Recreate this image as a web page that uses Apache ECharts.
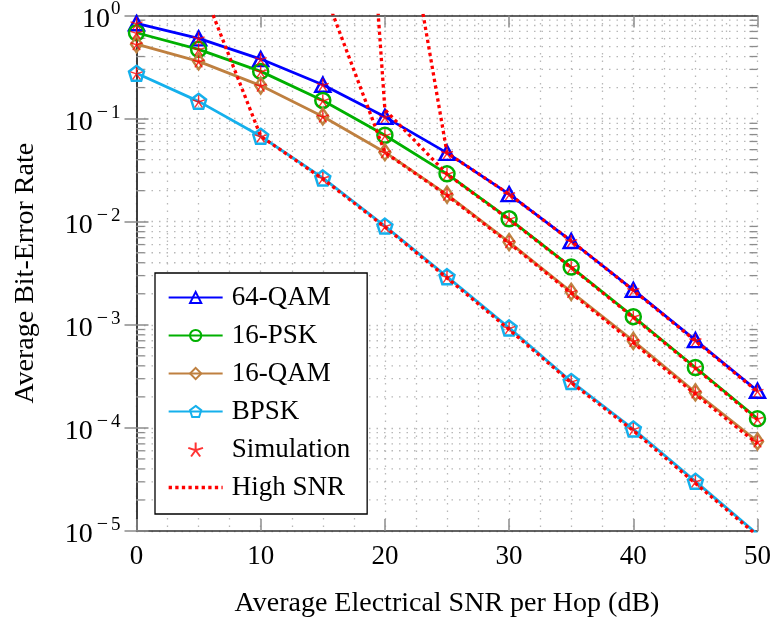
<!DOCTYPE html>
<html>
<head>
<meta charset="utf-8">
<script src="https://cdn.jsdelivr.net/npm/echarts@6/dist/echarts.min.js"></script>
<style>
html,body{margin:0;padding:0;background:#fff;}
#chart{width:774px;height:626px;}
</style>
</head>
<body>
<div id="chart"></div>
<script>
// ---- data ----
const snr = [0, 5, 10, 15, 20, 25, 30, 35, 40, 45, 50];
const ber64QAM = [0.84, 0.60, 0.378, 0.213, 0.104, 0.0465, 0.0185, 0.0065, 0.00218, 7.1e-4, 2.29e-4];
const ber16PSK = [0.68, 0.47, 0.287, 0.150, 0.0689, 0.0291, 0.01067, 0.00363, 0.0012, 3.85e-4, 1.23e-4];
const ber16QAM = [0.527, 0.359, 0.209, 0.105, 0.0472, 0.0183, 0.00635, 0.00209, 6.98e-4, 2.21e-4, 7.4e-5];
const berBPSK = [0.275, 0.147, 0.0674, 0.0266, 0.00906, 0.00293, 9.33e-4, 2.82e-4, 9.75e-5, 3.03e-5, 9.3e-6];

const sim64QAM = [0.84, 0.60, 0.378, 0.213, 0.104, 0.0465, 0.0185, 0.0065, 0.00218, 7.1e-4, 2.29e-4];
const sim16PSK = [0.68, 0.47, 0.287, 0.150, 0.0689, 0.0291, 0.01067, 0.00363, 0.0012, 3.85e-4, 1.23e-4];
const sim16QAM = [0.527, 0.359, 0.209, 0.105, 0.0472, 0.0183, 0.00635, 0.00209, 6.98e-4, 2.21e-4, 7.4e-5];
const simBPSK = [0.275, 0.147, 0.0674, 0.0266, 0.00906, 0.00293, 9.33e-4, 2.82e-4, 9.75e-5, 3.03e-5, 9.3e-6];

const hsSnrBPSK = [5, 10, 15, 20, 25, 30, 35, 40, 45, 50];
const hsBPSK = [2.3, 0.0674, 0.026, 0.0089, 0.00285, 9.0e-4, 2.75e-4, 9.4e-5, 2.9e-5, 9.0e-6];
const hsSnr16QAM = [15, 20, 25, 30, 35, 40, 45, 50];
const hs16QAM = [1.87, 0.047, 0.018, 0.0062, 0.00203, 6.7e-4, 2.12e-4, 7.0e-5];
const hsSnr16PSK = [15, 20, 25, 30, 35, 40, 45, 50];
const hs16PSK = [5e7, 0.122, 0.029, 0.0105, 0.0036, 0.00118, 3.8e-4, 1.2e-4];
const hsSnr64QAM = [20, 25, 30, 35, 40, 45, 50];
const hs64QAM = [145, 0.0465, 0.0185, 0.0065, 0.00216, 7.0e-4, 2.25e-4];

const legendNames = ['64-QAM', '16-PSK', '16-QAM', 'BPSK', 'Simulation', 'High SNR'];
const yMinorVals = [];
[-5, -4, -3, -2, -1].forEach(function (e) {
  [2, 3, 4, 5, 6, 7, 8, 9].forEach(function (m) { yMinorVals.push(m * Math.pow(10, e)); });
});

// ---- helpers ----
const FONT = '"Liberation Serif", "DejaVu Serif", serif';
const pairs = (xs, ys) => xs.map((x, i) => [x, ys[i]]);
const PENTAGON = 'path://M0,-1L0.951,-0.309L0.588,0.809L-0.588,0.809L-0.951,-0.309Z';
const STAR = 'path://M0,0L0,-1M0,0L0.951,-0.309M0,0L0.588,0.809M0,0L-0.588,0.809M0,0L-0.951,-0.309';
const GRID_COLOR = '#b8b8b8';
const TICK_COLOR = '#8c8c8c';
const AXIS_COLOR = '#303030';
const DOT = [3.3, 3.3];

function analytic(name, color, ys, symbol, size) {
  return {
    name: name, type: 'line', data: pairs(snr, ys), z: 2,
    symbol: symbol, symbolSize: size, showSymbol: true,
    lineStyle: { color: color, width: 2.8 },
    itemStyle: { color: 'rgba(255,255,255,0)', borderColor: color, borderWidth: 2.5 },
    emphasis: { disabled: true }, animation: false
  };
}
function highSnr(xs, ys) {
  return {
    name: 'High SNR', type: 'line', data: pairs(xs, ys), z: 3,
    showSymbol: false, symbol: 'none',
    lineStyle: { color: '#ff0000', width: 3.3, type: DOT },
    itemStyle: { color: '#ff0000' },
    emphasis: { disabled: true }, animation: false
  };
}

const simData = [].concat(pairs(snr, sim64QAM), pairs(snr, sim16PSK), pairs(snr, sim16QAM), pairs(snr, simBPSK));

const chart = echarts.init(document.getElementById('chart'), null, { renderer: 'canvas' });
const option = {
  animation: false,
  backgroundColor: '#ffffff',
  grid: { left: 136.5, right: 16.5, top: 14, bottom: 95, show: false },
  xAxis: [{
    type: 'value', min: 0, max: 50, interval: 10,
    name: 'Average Electrical SNR per Hop (dB)', nameLocation: 'middle', nameGap: 59,
    nameTextStyle: { fontFamily: FONT, fontSize: 28, color: '#000' },
    axisLine: { show: true, onZero: false, lineStyle: { color: AXIS_COLOR, width: 1.5 } },
    axisTick: { show: true, inside: true, length: 12, lineStyle: { color: TICK_COLOR, width: 1.5 } },
    axisLabel: { fontFamily: FONT, fontSize: 27, color: '#000', margin: 12 },
    splitLine: { show: true, lineStyle: { color: GRID_COLOR, width: 1.3, type: [1.5, 6] } },
    minorTick: { show: false, splitNumber: 4 },
    minorSplitLine: { show: true, lineStyle: { color: GRID_COLOR, width: 1.3, type: [1.5, 6] } }
  }, {
    type: 'value', min: 0, max: 50, interval: 10, position: 'top',
    axisLine: { show: true, onZero: false, lineStyle: { color: AXIS_COLOR, width: 1.5 } },
    axisTick: { show: true, inside: true, length: 12, lineStyle: { color: TICK_COLOR, width: 1.5 } },
    axisLabel: { show: false }, splitLine: { show: false }
  }],
  yAxis: [{
    type: 'log', logBase: 10, min: 1e-5, max: 1,
    name: 'Average Bit-Error Rate', nameLocation: 'middle', nameGap: 97,
    nameTextStyle: { fontFamily: FONT, fontSize: 28, color: '#000' },
    axisLine: { show: true, lineStyle: { color: AXIS_COLOR, width: 1.5 } },
    axisTick: { show: true, inside: true, length: 12, lineStyle: { color: TICK_COLOR, width: 1.5 } },
    axisLabel: {
      margin: 16, color: '#000', padding: [8, 0, 0, 0],
      formatter: function (v) {
        const e = Math.round(Math.log10(v));
        if (e < 0) return '{b|10}{m|\u2212}{s|' + (-e) + '}';
        return '{b|10}{s|' + e + '}';
      },
      rich: {
        b: { fontFamily: FONT, fontSize: 28, color: '#000' },
        m: { fontFamily: FONT, fontSize: 20, color: '#000', padding: [0, 2, 20, 4] },
        s: { fontFamily: FONT, fontSize: 19, color: '#000', padding: [0, 0, 20, 1] }
      }
    },
    splitLine: { show: true, lineStyle: { color: GRID_COLOR, width: 1.3, type: [1.5, 6] } }
  }, {
    type: 'log', logBase: 10, min: 1e-5, max: 1, position: 'right',
    axisLine: { show: true, lineStyle: { color: AXIS_COLOR, width: 1.5 } },
    axisTick: { show: true, inside: true, length: 12, lineStyle: { color: TICK_COLOR, width: 1.5 } },
    axisLabel: { show: false }, splitLine: { show: false }
  }],
  legend: {
    show: true, orient: 'vertical', left: 155, top: 273,
    data: legendNames.map(function (n) {
      if (n === 'High SNR') return { name: n, itemStyle: { opacity: 0 }, lineStyle: { width: 3.3, type: DOT, color: '#ff0000' } };
      return { name: n };
    }),
    backgroundColor: '#ffffff', borderColor: '#000', borderWidth: 1.3, borderRadius: 0,
    padding: [11, 17, 13, 12], itemGap: 11, itemWidth: 54, itemHeight: 14,
    textStyle: { fontFamily: FONT, fontSize: 27, color: '#000', lineHeight: 27, padding: [0, 0, 0, 4] },
    selectedMode: false, z: 10
  },
  series: [
    {
      type: 'custom', name: 'minorGrid', silent: true, z: 1, animation: false,
      data: yMinorVals.map(v => [0, v]),
      encode: { x: 0, y: 1 },
      renderItem: function (params, api) {
        const v = api.value(1);
        const p0 = api.coord([0, v]);
        const p1 = api.coord([50, v]);
        return {
          type: 'group', children: [
            { type: 'line', shape: { x1: p0[0], y1: p0[1], x2: p1[0], y2: p1[1] },
              style: { stroke: GRID_COLOR, lineWidth: 1.3, lineDash: [1.5, 6] } },
            { type: 'line', shape: { x1: p0[0], y1: p0[1], x2: p0[0] + 8, y2: p0[1] },
              style: { stroke: TICK_COLOR, lineWidth: 1.3 } },
            { type: 'line', shape: { x1: p1[0] - 8, y1: p1[1], x2: p1[0], y2: p1[1] },
              style: { stroke: TICK_COLOR, lineWidth: 1.3 } }
          ]
        };
      }
    },
    analytic('64-QAM', '#0000ff', ber64QAM, 'triangle', [15, 14]),
    analytic('16-PSK', '#00b000', ber16PSK, 'circle', 15),
    analytic('16-QAM', '#bf8040', ber16QAM, 'diamond', [11, 16]),
    analytic('BPSK', '#15b0ec', berBPSK, PENTAGON, 15),
    highSnr(hsSnrBPSK, hsBPSK),
    highSnr(hsSnr16QAM, hs16QAM),
    highSnr(hsSnr16PSK, hs16PSK),
    highSnr(hsSnr64QAM, hs64QAM),
    {
      name: 'Simulation', type: 'scatter', data: simData, z: 4,
      symbol: STAR, symbolSize: 12,
      itemStyle: { color: 'rgba(255,0,0,0)', borderColor: '#ff0000', borderWidth: 1.4 },
      emphasis: { disabled: true }, animation: false
    }
  ]
};
chart.setOption(option);
</script>
</body>
</html>
